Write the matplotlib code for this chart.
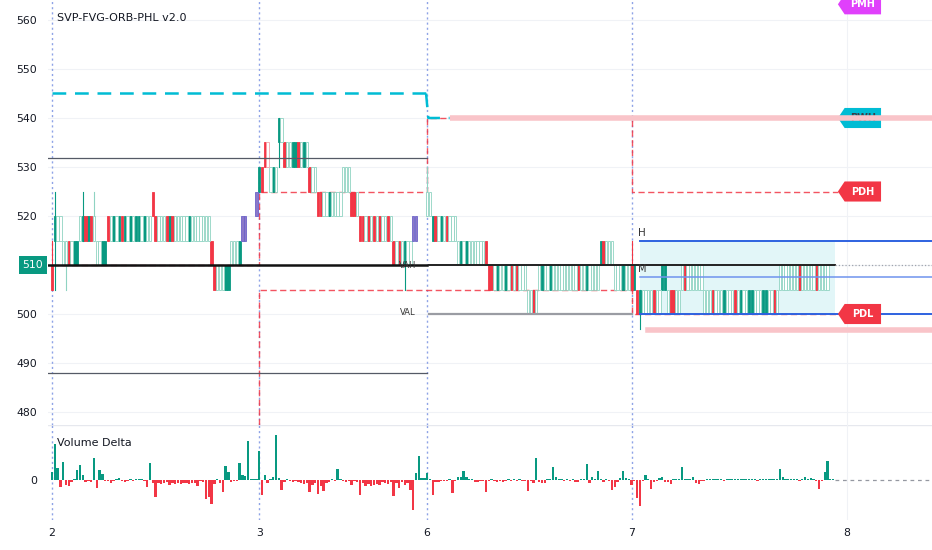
import matplotlib
matplotlib.use('Agg')
import matplotlib.pyplot as plt
import matplotlib.transforms as mtransforms
from matplotlib.patches import Polygon
import numpy as np

# colours used by the indicator
GREEN = '#089981'
RED = '#F23645'
CYAN = '#00bcd4'
BLUE = '#2e62e0'
PINK = '#f9c4c9'

# ---- data ----
day_labels = ['2', '3', '6', '7', '8']
day_bars = [74, 60, 73, 77]          # bars per session, last one still running

# candles: one char per bar, level code gives the low of a 5 point body
LEVEL_BASE = 480
LEVEL_STEP = 5
LEVEL_CODES = "0123456789ab"

day2_levels = ("5777666666" "7777776666" "7777777777777777" "8"
               "77777777777777777777" "65" "55555" "6666" "77" "888" "8")
day2_styles = ("RGggggRgGG" "gGRGRgggGG" "RgGgGRGgGgGGgGgg" "R"
               "RgggRGRgggggGggggggg" "RR" "gggGG" "gggG" "PP" "..." "P")
day3_levels = ("99aa" "999" "b" "b" "aaaaaaaaa" "999" "888888888" "999" "888"
               "777777777777" "6666666" "77" "888")
day3_styles = ("GRRr" "gGg" "G" "g" "RggGGRgGg" "Rgg" "RRggGgggg" "ggg" "RRg"
               "RRgRgRgRggRg" "RgRgGgg" "PP" "...")
day6_levels = ("88" "777777777" "66666666666" "55555555555555" "4444"
               "5555555555555555555555" "66666" "555555")
day6_styles = ("gg" "GRgGgRggg" "gGgGggggggR" "RRgGggGgRgRggg" "ggRg"
               "gGggGgggggggggRggGgggg" "GRggg" "gggGgg")
day7_levels = ("5" "5" "44" "4444" "4445544444" "55555555"
               "444444444444444444444444444" "55555555555555555555")
day7_styles = ("R" "G" "RG" "gggg" "RggGGgRRgg" "gRgggggg"
               "gggRgggGgggRgGggGGgggGGggRg" "gggggggRgggggRgggg..")

candle_levels = [day2_levels, day3_levels, day6_levels, day7_levels]
candle_styles = [day2_styles, day3_styles, day6_styles, day7_styles]

# (session, bar, low, high)
wicks = [(0, 0, 505, 515), (0, 1, 505, 525), (0, 5, 505, 515), (0, 11, 515, 525),
         (0, 15, 515, 525), (1, 7, 530, 540), (1, 52, 505, 515), (2, 0, 520, 530),
         (3, 0, 505, 515), (3, 3, 497, 505)]

# volume delta per bar
vd_day2 = [8, 36, 12, -7, 18, -5, -6, -2, 1, 10, 15, 5, -2, -1, -2, 22, -8, 10, 6, -1,
           -1, -3, -1, 1, 2, -1, -2, -1, 1, -1, 1, 1, 1, -1, -7, 17, -3, -17, -3, -4,
           -3, -2, -5, -3, -4, -3, -4, -3, -3, -4, -3, -3, -6, -1, -2, -19, -17, -24, -4, 1,
           -3, -12, 14, 8, -2, -1, -1, 17, 5, 4, 39, 1, 1, 1]
vd_day3 = [29, -15, 5, -3, 1, 3, 45, 2, -10, -2, 1, -1, -2, -1, -2, -3, -4, -3, -12, -5,
           -3, -14, -6, -11, -3, -2, 1, -1, 11, 1, -1, -2, -1, -5, -1, -2, -15, -3, -6, -4,
           -6, -5, -4, -5, -2, -3, -4, -2, -16, -3, -8, -2, -5, -3, -10, -30, 7, 24, 2, 2]
vd_day6 = [7, 1, -15, -2, -2, -1, -1, -1, 1, -13, -1, 3, 3, 9, 3, 1, 1, -2, -2, -1,
           -1, -12, -1, 1, -1, -2, -1, -2, -1, 1, -1, 1, -1, 1, -1, -1, -11, -1, -3, 22,
           -2, -3, -3, 1, 1, 13, 3, 1, 1, -1, 1, -1, 1, -2, -2, 1, 1, 16, -3, 3,
           1, 9, 1, -2, 1, -1, -10, -7, -2, 2, 9, 2, 1]
vd_day7 = [-5, -1, -18, -26, -1, 5, 1, -9, -2, -1, 2, 3, -2, -2, -4, 1, 1, 1, 13, 1,
           1, 1, 3, -3, -4, -1, -1, 1, 1, 1, 1, 1, 1, -1, 1, 1, 1, 1, 1, 1,
           1, 1, 1, 1, 1, -1, 1, 1, 1, 1, 1, 1, 1, 11, 3, 1, 1, 1, 1, 1,
           -1, 1, 3, 1, 2, 1, -1, -9, -1, 8, 19, 1, 1]
volume_delta = [vd_day2, vd_day3, vd_day6, vd_day7]

# levels
pwh_levels = [545, 540]
pdh_levels = [510, 525, 540, 525]
pdl_levels = [470, 505, 505, 500]
pmh_level = 563.2
poc_level = 510
prev_vah, prev_val = 531.8, 488
val_level = 500
orb_high, orb_mid, orb_low = 515, 507.5, 500
liq_high, liq_low = 540, 496.7

price_ticks = [480, 490, 500, 510, 520, 530, 540, 550, 560]
last_price = 510

# ---- layout ----
day_start = np.concatenate([[0], np.cumsum(day_bars)])
tick_pos = day_start
x_left, x_right = -1.43, 314.3
tag_x = 280.7          # tip of the right side labels
data_end = day_start[3] + len(day7_levels) - 0.4

fig = plt.figure(figsize=(9.32, 5.5), dpi=100)
ax = fig.add_axes([48 / 932, 125 / 550, 884 / 932, 425 / 550])
axv = fig.add_axes([48 / 932, 30 / 550, 884 / 932, 95 / 550], sharex=ax)

for a in (ax, axv):
    for s in a.spines.values():
        s.set_visible(False)
    a.tick_params(length=0, labelsize=7.8, colors='#131722')
ax.set_xlim(x_left, x_right)
ax.set_ylim(477.35, 564.08)
axv.set_ylim(-40, 55)

# grid
for p in price_ticks:
    ax.axhline(p, color='#f0f2f6', lw=0.8, zorder=0)
axv.axhline(55, color='#e6e8ee', lw=1, zorder=0)
for a in (ax, axv):
    a.axvline(tick_pos[4], color='#f0f2f6', lw=0.8, zorder=0)
    for xd in tick_pos[:4]:
        a.axvline(xd, color='#8ea3e6', lw=1, ls=(0, (1.5, 2.2)), zorder=1)

# opening range box
ax.fill_between([day_start[3] + 3, data_end], orb_low, orb_high, color='#e2f6f8', zorder=1, lw=0)

# candles
style_colors = {'G': (GREEN, GREEN), 'R': (RED, RED), 'g': ('white', '#8fd3c2'),
                'r': ('white', '#f5a3ab'), 'P': ('#8b78c9', '#6c63c9')}
for key, (fc, ec) in style_colors.items():
    xs, lows = [], []
    for d in range(4):
        for i, (c, s) in enumerate(zip(candle_levels[d], candle_styles[d])):
            if s == key:
                xs.append(day_start[d] + i)
                lows.append(LEVEL_BASE + LEVEL_STEP * LEVEL_CODES.index(c))
    ax.bar(xs, LEVEL_STEP, bottom=lows, width=0.8, color=fc, edgecolor=ec, lw=0.6, zorder=3)
for d, i, lo, hi in wicks:
    fc, ec = style_colors[candle_styles[d][i]]
    ax.plot([day_start[d] + i] * 2, [lo, hi], color=ec, lw=0.8, zorder=2.9)

# previous value area and poc
ax.plot([x_left, day_start[2]], [prev_vah] * 2, color='#555a66', lw=0.9, zorder=4)
ax.plot([x_left, day_start[2]], [prev_val] * 2, color='#555a66', lw=0.9, zorder=4)
ax.plot([x_left, day_start[2]], [poc_level] * 2, color='#111111', lw=1.8, zorder=4)
ax.plot([day_start[2] + 0.8, data_end], [poc_level] * 2, color='#222222', lw=1.4, zorder=4)
ax.plot([data_end, x_right], [poc_level] * 2, color='#a0a4ad', lw=0.9, ls=':', zorder=4)
ax.plot([day_start[2] + 0.8, day_start[3]], [val_level] * 2, color='#9a9ca3', lw=1.6, zorder=4)
ax.text(day_start[2] - 4, poc_level, 'VAH', fontsize=6, color='#333', ha='right', va='center', zorder=5)
ax.text(day_start[2] - 4, val_level + 0.3, 'VAL', fontsize=6, color='#333', ha='right', va='center', zorder=5)


# previous day high / low steps
def step_line(levels, end):
    xs, ys = [], []
    for d, lv in enumerate(levels):
        xs += [day_start[d], day_start[d + 1] if d < len(levels) - 1 else end]
        ys += [lv, lv]
    return xs, ys


for lv in (pdh_levels, pdl_levels):
    xs, ys = step_line(lv, tag_x)
    ax.plot(xs, ys, color=RED, lw=1, ls=(0, (4.5, 2.5)), alpha=0.85, zorder=2.5)

# previous week high
ax.plot([0, day_start[2] - 0.4], [pwh_levels[0]] * 2, color=CYAN, lw=1.8,
        ls=(0, (5.5, 3.5)), zorder=4)
ax.plot([day_start[2] - 0.4, day_start[2] + 0.4, day_start[2] + 8],
        [pwh_levels[0], pwh_levels[1], pwh_levels[1]], color=CYAN, lw=1.8,
        ls=(0, (5.5, 3.5)), zorder=4)

# opening range lines
orb_x = [day_start[3] + 3, x_right]
ax.plot(orb_x, [orb_high] * 2, color=BLUE, lw=1.4, zorder=4)
ax.plot(orb_x, [orb_mid] * 2, color='#6f93ee', lw=1.1, zorder=4)
ax.plot(orb_x, [orb_low] * 2, color=BLUE, lw=1.4, zorder=4)
ax.text(day_start[3] + 2.4, orb_high + 1.6, 'H', fontsize=7.5, color='#333', va='center', zorder=5)
ax.text(day_start[3] + 2.4, orb_mid + 1.6, 'M', fontsize=7, color='#333', va='center', zorder=5)


# right side tags
def draw_tag(y, text, color, text_color='white'):
    h = 2.05
    poly = Polygon([[tag_x, y], [tag_x + 2.4, y + h], [tag_x + 15.4, y + h],
                    [tag_x + 15.4, y - h], [tag_x + 2.4, y - h]],
                   closed=True, fc=color, ec='none', zorder=5)
    ax.add_patch(poly)
    ax.text(tag_x + 8.9, y, text, color=text_color, fontsize=7, fontweight='bold',
            ha='center', va='center', zorder=5.5)


draw_tag(pmh_level, 'PMH', '#e040fb')
draw_tag(pwh_levels[1], 'PWH', CYAN, '#3a3f4a')
draw_tag(pdh_levels[3], 'PDH', RED)
draw_tag(pdl_levels[3], 'PDL', RED)

# liquidity lines
ax.plot([day_start[2] + 8, x_right], [liq_high] * 2, color=PINK, lw=4, zorder=6,
        solid_capstyle='butt')
ax.plot([day_start[3] + 6, x_right], [liq_low] * 2, color=PINK, lw=4, zorder=6)

# price axis
ax.set_yticks(price_ticks)
ax.set_yticklabels(['' if p == last_price else str(p) for p in price_ticks])
ax.tick_params(axis='y', pad=8)
ax.tick_params(axis='x', labelbottom=False)
trans = mtransforms.blended_transform_factory(ax.transAxes, ax.transData)
ax.text(-0.017, last_price, str(last_price), transform=trans, color='white', fontsize=7.8,
        ha='center', va='center', bbox=dict(boxstyle='square,pad=0.35', fc=GREEN, ec='none'))

# volume delta
vx, vy = [], []
for d in range(4):
    vx += list(day_start[d] + np.arange(len(volume_delta[d])))
    vy += volume_delta[d]
vy = np.array(vy)
axv.bar(vx, vy, width=0.8, color=np.where(vy >= 0, GREEN, RED), zorder=3)
axv.plot([data_end, x_right], [0, 0], color='#9598a1', lw=0.9, ls=(0, (3, 3)))
axv.set_yticks([0])
axv.set_yticklabels(['0'])
axv.tick_params(axis='y', pad=8)
axv.set_xticks(tick_pos)
axv.set_xticklabels(day_labels)
axv.tick_params(axis='x', pad=6)

fig.text(57 / 932, 1 - 18 / 550, 'SVP-FVG-ORB-PHL v2.0', fontsize=8, color='#131722', va='center')
fig.text(57 / 932, 1 - 443 / 550, 'Volume Delta', fontsize=8, color='#131722', va='center')

fig.savefig('out.png', dpi=100)
